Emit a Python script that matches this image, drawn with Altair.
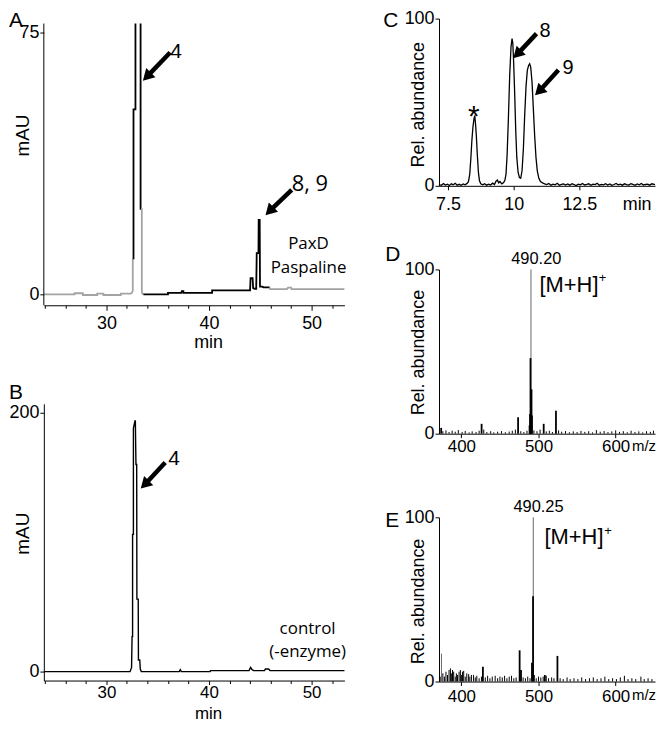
import altair as alt
import pandas as pd

FONT = "Liberation Sans"
FONT2 = "Open Sans"

# ---------------- Panel A : HPLC, PaxD + paspaline (min, mAU) ----------------
A_seg_x = [
    [23.9, 26.9, 26.9, 27.7, 27.7, 29.1, 29.1, 29.7, 29.7, 31.4, 31.4, 32.3, 32.45, 32.57, 32.57],
    [32.57, 32.64, 32.64, 32.83, 32.83],
    [33.33, 33.33, 33.37],
    [33.37, 33.45, 33.45, 33.5, 33.6],
    [33.6, 36.0, 36.0, 37.3, 37.35, 37.5, 37.5, 40.3, 40.3, 44.0, 44.05, 44.25, 44.3, 44.45,
     44.6, 44.65, 44.82, 44.84, 44.94, 44.97, 45.2, 45.3, 45.92],
    [45.92, 45.95, 47.6, 47.7, 48.0, 48.05, 53.2],
]
A_seg_y = [
    [0, 0, 0.3, 0.3, -0.2, -0.2, 0.2, 0.2, -0.2, -0.2, 0.2, 0.2, 0.3, 1.0, 10.3],
    [10.3, 10.3, 53, 53, 77.6],
    [77.6, 24.5, 24.5],
    [24.5, 24.5, 1.0, 0.2, 0],
    [0, 0, 0.4, 0.4, 0.9, 0.9, 0.4, 0.4, 1.1, 1.1, 4.6, 4.6, 1.8, 1.6,
     1.6, 11.8, 11.8, 21.3, 21.3, 2.2, 2.2, 2.0, 2.0],
    [2.0, 1.5, 1.5, 1.9, 1.9, 1.5, 1.5],
]
A_seg_color = ["#a3a3a3", "black", "black", "#a3a3a3", "black", "#a3a3a3"]
A_xdom = [23.9, 53.2]
A_ydom = [-3.14, 78.99]
A_major = [30, 40, 50]
A_minor = [24, 26, 28, 32, 34, 36, 38, 42, 44, 46, 48, 52]

# ---------------- Panel B : HPLC, control (-enzyme) ----------------
B_t = [23.9, 32.3, 32.45, 32.5, 32.55, 32.55, 32.63, 32.63, 32.78, 32.82, 32.86, 32.88, 32.95,
       32.97, 33.1, 33.12, 33.25, 33.3, 33.4, 37.1, 37.2, 37.3, 40.1, 40.15, 43.9, 44.05, 44.2,
       44.35, 45.4, 45.5, 45.8, 45.95, 53.2]
B_mau = [0, 0, 3, 27, 27, 106, 106, 188, 193.6, 193.6, 170, 160, 160,
         56, 56, 9, 9, 2, 0, 0, 1.5, 0, 0, 0.8, 0.8, 3.3, 1.5,
         0.8, 0.8, 2, 2, 0.8, 0.8]
B_ydom = [-6.9, 206.9]

# ---------------- Panel C : LC-MS extracted ion chromatogram ----------------
C_t = [7.16, 7.25, 7.33, 7.40, 7.48, 7.55, 7.63, 7.70, 7.78, 7.85, 7.93, 8.00, 8.08, 8.15, 8.22,
       8.28, 8.33, 8.37, 8.41, 8.45, 8.49, 8.52, 8.55, 8.58, 8.62, 8.66, 8.70, 8.75, 8.82, 8.90,
       8.97, 9.05, 9.12, 9.20, 9.27, 9.33, 9.38, 9.43, 9.48, 9.55, 9.62, 9.67, 9.71, 9.75, 9.80,
       9.85, 9.90, 9.94, 9.97, 10.00, 10.04, 10.08, 10.12, 10.17, 10.22, 10.27, 10.32, 10.37,
       10.42, 10.47, 10.52, 10.57, 10.61, 10.65, 10.70, 10.75, 10.80, 10.85, 10.90, 10.96,
       11.02, 11.10, 11.18,
       11.26, 11.34, 11.42, 11.50, 11.58, 11.66, 11.74, 11.82, 11.90, 11.98, 12.06, 12.14,
       12.22, 12.30, 12.38, 12.46, 12.54, 12.62, 12.70, 12.78, 12.86, 12.94, 13.02, 13.10,
       13.18, 13.26, 13.34, 13.42, 13.50, 13.58, 13.66, 13.74, 13.82, 13.90, 13.98, 14.06,
       14.14, 14.22, 14.30, 14.38, 14.46, 14.54, 14.62, 14.70, 14.78, 14.86, 14.94, 15.02,
       15.10, 15.18, 15.26, 15.38]
C_ab = [0.8, 0.3, 1.4, 0.5, 1.0, 0.2, 1.2, 0.6, 1.5, 0.4, 0.9, 0.3, 1.1, 0.6, 1.3,
        2.5, 7, 16, 27, 35, 40, 42, 37, 30, 18, 8, 3, 1.2, 0.6, 1.3,
        0.4, 1.0, 0.5, 1.6, 0.8, 2.8, 3.5, 1.8, 2.6, 1.2, 2.0, 3.5, 7, 18, 40,
        66, 83, 88, 85, 74, 55, 33, 17, 8, 5, 4.5, 9, 22,
        42, 59, 69, 72, 73, 71, 62, 46, 30, 17, 9, 4.5,
        2.5, 1.8, 1.2,
        0.7, 1.4, 0.4, 1.0, 0.6, 1.5, 0.3, 0.9, 1.2, 0.5, 1.1, 0.4,
        1.3, 0.7, 0.2, 1.0, 0.6, 1.4, 0.5, 0.8, 1.2, 0.3, 1.0, 0.7,
        1.5, 0.4, 0.9, 0.6, 1.3, 0.5, 1.1, 0.3, 0.8, 1.4, 0.6, 1.0,
        0.4, 1.2, 0.7, 0.5, 1.3, 0.9, 0.3, 1.1, 0.6, 1.4, 0.5, 0.8,
        1.0, 0.4, 1.2, 0.7]
C_xdom = [7.16, 15.38]
C_ydom = [0, 100]
C_ticks = [7.5, 10, 12.5]

# ---------------- Panel D : MS spectrum (m/z, rel. abundance) ----------------
D_main_mz = [490.2]
D_main_ab = [100]
D_major_mz = [489.6, 490.9, 489.0, 491.5, 488.4, 473.5, 506.7, 522.6, 426.2, 373.8]
D_major_ab = [46, 27, 12, 11, 5, 10, 6, 14, 6, 3.5]
D_noise_mz = [376, 380, 384, 388, 392, 396, 401, 405, 410, 414, 419, 423, 429, 433, 438, 442,
              447, 452, 457, 462, 466, 470, 477, 481, 485, 494, 498, 502, 510, 514, 518, 526,
              530, 535, 540, 545, 550, 555, 560, 565, 570, 575, 580, 585, 590, 595, 600, 605,
              610, 615, 620, 625, 630, 635, 640, 645, 649]
D_noise_ab = [1.5, 2, 1, 1.8, 1.2, 2.2, 1, 1.6, 0.8, 1.4, 1, 1.8, 2.5, 1, 1.5, 0.8,
              1.2, 1.6, 0.9, 1.3, 1.8, 2.5, 1.5, 1, 1.8, 2, 1.5, 2.5, 1.4, 1.8, 1, 2,
              1.2, 1.6, 0.9, 1.4, 1, 1.7, 1.1, 1.5, 0.8, 2.2, 1.2, 1.6, 1, 1.4, 2, 1.1,
              1.5, 0.9, 1.8, 1, 1.4, 0.8, 1.5, 1.1, 1.8]

# ---------------- Panel E : MS spectrum ----------------
E_main_mz = [493.2, 374.2]
E_main_ab = [100, 17]
E_major_mz = [492.9, 491.5, 494.0, 475.5, 477.3, 524.5, 427.9, 508.2]
E_major_ab = [52, 11.5, 4, 19, 7, 15.6, 9, 4]
E_noise_mz = [372.5, 376, 378, 380, 382, 384, 385.8, 387, 388.5, 390, 392, 393.5, 395, 397,
              398.7, 400, 401.5, 403, 405, 407, 409.4, 411, 413, 415.8, 418, 420, 423, 426,
              431, 434, 437, 440, 443.8, 447, 450, 453, 456, 459, 462, 465, 468, 471, 480,
              483, 486, 489, 497, 500, 503, 506, 510, 513, 517, 520, 528, 532, 537, 541, 546,
              551, 556, 561, 566, 571, 576, 581, 586, 591, 596, 601, 606, 611.3, 616, 621,
              626, 632.7, 637, 642, 647]
E_noise_ab = [3, 5, 3, 6, 4, 7, 8, 5, 7, 6, 3, 5, 4, 6,
              7, 4, 6, 6.5, 3, 5, 4.5, 3, 4, 4, 2.5, 3.5, 2, 3,
              2.5, 3.5, 2, 3, 3.5, 2, 3, 2.5, 3.5, 2, 3, 3.5, 2, 2.5, 2.5,
              2, 3, 2, 2, 3, 2.5, 3, 3.5, 2, 2.5, 2, 2, 1.5, 2.5, 1.5, 2,
              1.5, 2.5, 1.5, 2, 2.5, 1.5, 2, 3, 1.5, 2, 1.5, 2.5, 3.5, 1.5, 2,
              1.5, 3, 1.5, 2, 1.5]
MS_xdom = [371, 651]
MS_ydom = [0, 100]
MS_major = [400, 500, 600]

# ---------------- annotations (data coordinates) ----------------
A_arrows = dict(x=[36.21, 48.06], y=[69.29, 29.94], x2=[34.07, 46.02], y2=[62.73, 24.2])
B_arrows = dict(x=[35.73], y=[161.5], x2=[33.86], y2=[145.5])
C_arrows = dict(x=[10.871, 11.705], y=[91.0, 69.3], x2=[10.186, 11.015], y2=[79.5, 57.3])

assert len(C_t) == len(C_ab) and len(B_t) == len(B_mau)
assert len(D_noise_mz) == len(D_noise_ab) and len(E_noise_mz) == len(E_noise_ab)


def sc(dom):
    return alt.Scale(domain=dom, nice=False, zero=False)


def X(field, dom, axis):
    return alt.X(f"{field}:Q", scale=sc(dom), axis=axis)


def Y(field, dom, axis):
    return alt.Y(f"{field}:Q", scale=sc(dom), axis=axis)


def texts(rows, xs, ys, align, baseline, size, font=FONT):
    df = pd.DataFrame(rows, columns=["t", "x", "y"])
    return alt.Chart(df).mark_text(align=align, baseline=baseline, fontSize=size, font=font,
                                   color="black").encode(
        x=X("x", *xs), y=Y("y", *ys), text="t:N")


def plabel(t, px, py):
    return alt.Chart(pd.DataFrame({"t": [t]})).mark_text(
        align="left", baseline="top", fontSize=21, font=FONT, color="black").encode(
        x=alt.value(px), y=alt.value(py), text="t:N")


def arrows(d, xs, ys):
    df = pd.DataFrame(d)
    shaft = alt.Chart(df).mark_rule(strokeWidth=4.5, color="black", strokeCap="butt").encode(
        x=X("x", *xs), y=Y("y", *ys), x2="x2:Q", y2="y2:Q")
    head = alt.Chart(df).mark_point(shape="triangle", filled=True, size=170, angle=225,
                                    color="black", opacity=1).encode(
        x=X("x2", *xs), y=Y("y2", *ys))
    return [shaft, head]


def minor_layer(xdom, ys, values):
    ax = alt.Axis(values=values, tickSize=3, labels=False, domain=False, title=None,
                  orient="bottom", grid=False)
    return alt.Chart(pd.DataFrame({"x": [values[0]], "y": [0]})).mark_point(opacity=0).encode(
        x=X("x", xdom, ax), y=Y("y", *ys))


# ---------------- build panel A ----------------
rows = []
for s, (xs_, ys_) in enumerate(zip(A_seg_x, A_seg_y)):
    for i, (xv, yv) in enumerate(zip(xs_, ys_)):
        rows.append(dict(x=xv, y=yv, seg=s, c=A_seg_color[s], i=i))
dfA = pd.DataFrame(rows)

axA_x = alt.Axis(values=A_major, tickSize=5, labelPadding=4, labelFontSize=18, title="min",
                 titleFontSize=18, titleX=165, titleY=37, titleBaseline="middle")
axA_y = alt.Axis(values=[0, 75], tickSize=4, labelPadding=1, labelFontSize=18, title="mAU",
                 titleFontSize=19, titleX=-21, titleY=117, titleBaseline="middle", domain=False)
xsA = (A_xdom, None)          # x axes are independent: only trace + minor layers draw one
ysA = (A_ydom, axA_y)         # y axis shared: same definition in every layer

A_trace = alt.Chart(dfA).mark_line(strokeWidth=1.8).encode(
    x=X("x", A_xdom, axA_x), y=Y("y", *ysA),
    color=alt.Color("c:N", scale=None), detail="seg:N", order="i:Q")
A_yline = alt.Chart(pd.DataFrame({"x": [A_xdom[0]], "y": [A_ydom[0]], "y2": [77.57]})).mark_rule(
    color="black", strokeWidth=1).encode(x=X("x", *xsA), y=Y("y", *ysA), y2="y2:Q")

A = alt.layer(
    A_trace, A_yline, *arrows(A_arrows, xsA, ysA),
    texts([["4", 36.21, 69.4]], xsA, ysA, "left", "middle", 21),
    texts([["8, 9", 48.06, 31.5]], xsA, ysA, "left", "middle", 22, FONT2),
    texts([["PaxD", 49.7, 14.5], ["Paspaline", 49.7, 7.4]], xsA, ysA, "center", "middle", 17, FONT2),
    plabel("A", -35, -9),
    minor_layer(A_xdom, ysA, A_minor),
).resolve_axis(x="independent").properties(width=302, height=288)

# ---------------- build panel B ----------------
dfB = pd.DataFrame({"x": B_t, "y": B_mau, "i": list(range(len(B_t)))})
axB_x = alt.Axis(values=A_major, tickSize=4, labelPadding=0, labelFontSize=17, title="min",
                 titleFontSize=17, titleX=165, titleY=33, titleBaseline="middle")
axB_y = alt.Axis(values=[0, 200], tickSize=4, labelPadding=1, labelFontSize=18, title="mAU",
                 titleFontSize=19, titleX=-21, titleY=130, titleBaseline="middle")
xsB = (A_xdom, None)
ysB = (B_ydom, axB_y)
B_trace = alt.Chart(dfB).mark_line(strokeWidth=1.4, color="black").encode(
    x=X("x", A_xdom, axB_x), y=Y("y", *ysB), order="i:Q")
B = alt.layer(
    B_trace, *arrows(B_arrows, xsB, ysB),
    texts([["4", 36.02, 164.2]], xsB, ysB, "left", "middle", 21),
    texts([["control", 49.61, 33.1], ["(-enzyme)", 49.61, 15.4]], xsB, ysB, "center", "middle", 17, FONT2),
    plabel("B", -35, -22),
    minor_layer(A_xdom, ysB, A_minor),
).resolve_axis(x="independent").properties(width=302, height=278)

# ---------------- build panel C ----------------
dfC = pd.DataFrame({"x": C_t, "y": C_ab, "i": list(range(len(C_t)))})
axC_x = alt.Axis(values=C_ticks, labelExpr="datum.value == 10 ? '10' : format(datum.value, '.1f')",
                 tickSize=4, labelPadding=6, labelFontSize=18, title=None)
axC_y = alt.Axis(values=[0, 100], tickSize=4, labelPadding=1, labelFontSize=18,
                 title="Rel. abundance", titleFontSize=18, titleX=-21, titleY=86,
                 titleBaseline="middle")
xsC = (C_xdom, axC_x)
ysC = (C_ydom, axC_y)
C_trace = alt.Chart(dfC).mark_line(strokeWidth=1.3, color="black").encode(
    x=X("x", *xsC), y=Y("y", *ysC), order="i:Q")
C = alt.layer(
    C_trace, *arrows(C_arrows, xsC, ysC),
    texts([["8", 10.985, 92.5], ["9", 11.856, 70.2]], xsC, ysC, "left", "middle", 20),
    texts([["*", 8.485, 36]], xsC, ysC, "center", "alphabetic", 30),
    texts([["min", 14.7, -5.95]], xsC, ysC, "center", "top", 18),
    plabel("C", -56, -9),
).properties(width=217, height=168)


# ---------------- build panels D, E ----------------
def ms_panel(main_mz, main_ab, major_mz, major_ab, noise_mz, noise_ab, peak_label, lab_x,
             mh_x, mh_y, plus_x, plus_y, mz_y, lab_pad, title_y, letter, letter_y):
    rows = ([dict(x=m, y=a, w=1.0, c="#6a6a6a") for m, a in zip(main_mz, main_ab)] +
            [dict(x=m, y=a, w=1.0, c="black") for m, a in zip(noise_mz, noise_ab)] +
            [dict(x=m, y=a, w=1.8, c="black") for m, a in zip(major_mz, major_ab)])
    df = pd.DataFrame(rows)
    ax_x = alt.Axis(values=MS_major, tickSize=4, labelPadding=lab_pad, labelFontSize=17, title=None)
    ax_y = alt.Axis(values=[0, 100], tickSize=4, labelPadding=1, labelFontSize=18,
                    title="Rel. abundance", titleFontSize=18, titleX=-21, titleY=title_y,
                    titleBaseline="middle")
    xs = (MS_xdom, ax_x)
    ys = (MS_ydom, ax_y)
    sticks = alt.Chart(df).mark_rule().encode(
        x=X("x", *xs), y=Y("y", *ys), y2=alt.datum(0),
        strokeWidth=alt.StrokeWidth("w:Q", scale=None), color=alt.Color("c:N", scale=None))
    return alt.layer(
        sticks,
        texts([[peak_label, lab_x, 106.4]], xs, ys, "center", "middle", 16.5),
        texts([["[M+H]", mh_x, mh_y]], xs, ys, "left", "middle", 22),
        texts([["+", plus_x, plus_y]], xs, ys, "left", "middle", 13),
        texts([["m/z", 636.8, mz_y]], xs, ys, "center", "top", 15),
        plabel(letter, -54, letter_y),
    ).properties(width=217, height=165)


D = ms_panel(D_main_mz, D_main_ab, D_major_mz, D_major_ab, D_noise_mz, D_noise_ab,
             "490.20", 497.1, 501.3, 90.3, 578.1, 94.5, -3.03, 1, 83, "D", -25)
E = ms_panel(E_main_mz, E_main_ab, E_major_mz, E_major_ab, E_noise_mz, E_noise_ab,
             "490.25", 500.0, 507.8, 87.7, 585.2, 91.5, -4.24, 3, 84, "E", -7)

left = alt.vconcat(A, B, spacing=99, bounds="flush")
right = alt.vconcat(C, D, E, spacing=84, bounds="flush")
chart = alt.hconcat(left, right, spacing=35).properties(padding=0)
chart = chart.configure_view(stroke=None).configure_axis(
    labelFont=FONT, titleFont=FONT, labelColor="black", titleColor="black",
    tickColor="black", domainColor="black", titleFontWeight="normal", grid=False,
    labelFlush=False, labelOverlap=False, domainWidth=1, tickWidth=1)

chart.save("out.html", embed_options={"renderer": "svg", "actions": False})
